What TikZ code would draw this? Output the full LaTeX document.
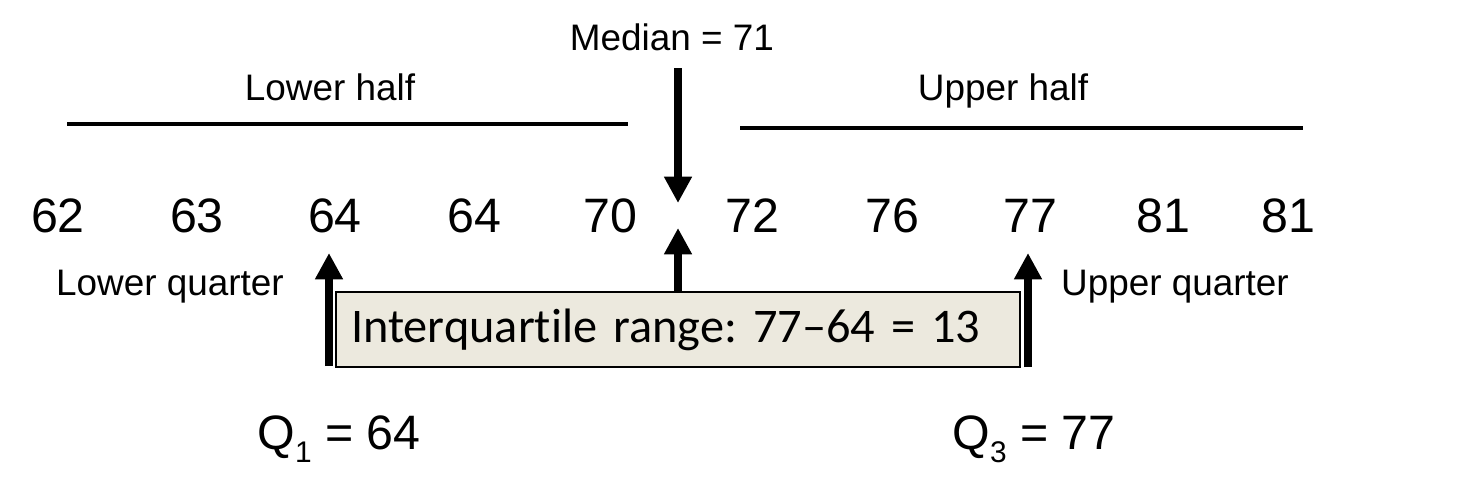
\documentclass[tikz,border=0pt]{standalone}
\usepackage{fontspec}
\setmainfont{Liberation Sans}
\newfontfamily\boxfont[Ligatures=NoCommon,WordSpace=0.6]{Carlito}
\usetikzlibrary{arrows.meta}
\usetikzlibrary{positioning}
\definecolor{boxfill}{RGB}{236,233,222}
\newcommand{\qsub}[1]{\raisebox{-0.28em}{\fontsize{17}{20}\selectfont #1}}
\tikzset{
  value/.style={font=\fontsize{27.5}{32}\selectfont, anchor=base},
  caption/.style={font=\fontsize{21}{25}\selectfont, anchor=base},
  bigarrow/.style={line width=4.5pt, -{Triangle[width=15pt,length=15pt]}},
  halfline/.style={line width=2.3pt},
  iqrbox/.style={draw, line width=1.6pt, fill=boxfill, font=\boxfont\fontsize{27.5}{32}\selectfont\frenchspacing,
    text width=13.08cm, inner xsep=0.3cm, inner ysep=0pt, minimum height=1.5cm, align=left},
}

\begin{document}
\begin{tikzpicture}[x=0.02cm,y=-0.02cm]
    \useasboundingbox (0,0) rectangle (1466,490);

    % the ordered values
    \node[value] (v1) at (58,232) {62};
    \node[value] (v2) at (197,232) {63};
    \node[value] (v3) at (335,232) {64};
    \node[value] (v4) at (474,232) {64};
    \node[value] (v5) at (610,232) {70};
    \node[value] (v6) at (752,232) {72};
    \node[value] (v7) at (892,232) {76};
    \node[value] (v8) at (1030,232) {77};
    \node[value] (v9) at (1163,232) {81};
    \node[value] (v10) at (1288,232) {81};

    \node[caption] (median) at (672,50) {Median = 71};
    \node[caption] (lowerhalf) at (330,100) {Lower half};
    \node[caption] (upperhalf) at (1003,100) {Upper half};
    \node[caption] (lowerq) at (170,295) {Lower quarter};
    \node[caption] (upperq) at (1175,295) {Upper quarter};

    \node[value] (q1) at (339,449) {Q\qsub{1} = 64};
    \node[value] (q3) at (1034,449) {Q\qsub{3} = 77};

    \node[iqrbox] (iqr) at (678,329.5) {Interquartile range: 77–64 = 13};

    % halves
    \coordinate (lowstart) at (67,124);
    \coordinate (lowend) at (628,124);
    \coordinate (upstart) at (740,128);
    \coordinate (upend) at (1303,128);
    \draw[halfline] (lowstart) -- (lowend);
    \draw[halfline] (upstart) -- (upend);

    % arrows
    \coordinate (medtop) at (678,68);
    \coordinate (medtip) at (678,203);
    \coordinate (midtip) at (678,228);
    \coordinate (q1foot) at (329,366);
    \coordinate (q1tip) at (329,253);
    \coordinate (q3foot) at (1028,367);
    \coordinate (q3tip) at (1028,253);
    \draw[bigarrow] (medtop) -- (medtip);
    \draw[bigarrow] (iqr.north) -- (midtip);
    \draw[bigarrow] (q1foot) -- (q1tip);
    \draw[bigarrow] (q3foot) -- (q3tip);
\end{tikzpicture}
\end{document}
